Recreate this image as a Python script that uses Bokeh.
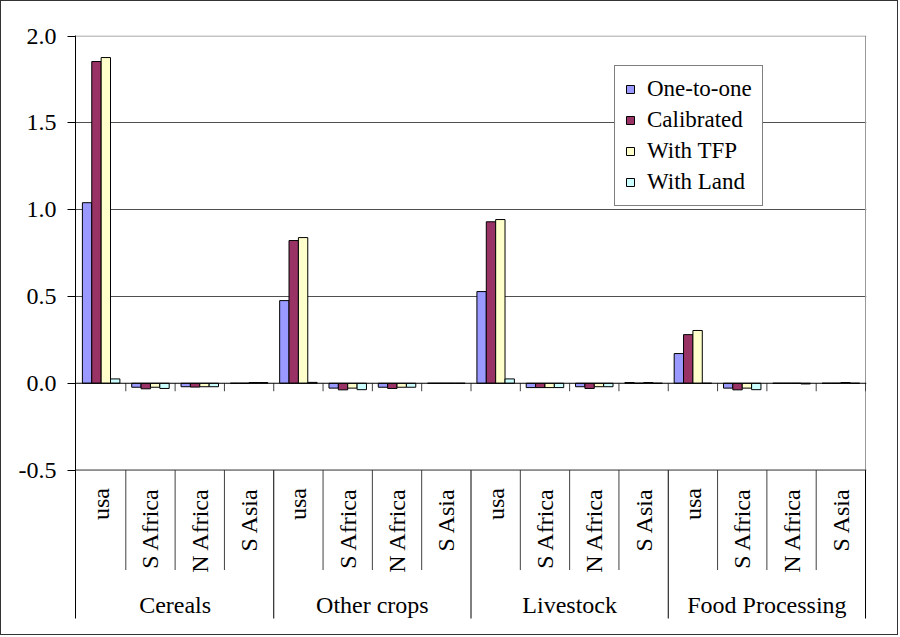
import math
from bokeh.plotting import figure
from bokeh.models import (FactorRange, Range1d, FixedTicker, NumeralTickFormatter,
                          Span, ColumnDataSource)
from bokeh.transform import dodge
from bokeh.core.properties import value
from bokeh.embed import file_html
from bokeh.resources import INLINE

# ---------------- data ----------------
groups = ["Cereals", "Other crops", "Livestock", "Food Processing"]
regions = ["usa", "S Africa", "N Africa", "S Asia"]
series_names = ["One-to-one", "Calibrated", "With TFP", "With Land"]
series_colors = ["#9999FF", "#993366", "#FFFFCC", "#CCFFFF"]

one_to_one = [1.04, -0.023, -0.02, 0.0,
              0.476, -0.028, -0.023, 0.0,
              0.528, -0.025, -0.02, 0.004,
              0.171, -0.028, 0.0, 0.0]
calibrated = [1.853, -0.032, -0.022, 0.0,
              0.822, -0.038, -0.03, 0.0,
              0.93, -0.025, -0.03, 0.0,
              0.28, -0.038, 0.0, 0.0]
with_tfp = [1.876, -0.023, -0.02, 0.004,
            0.839, -0.028, -0.023, 0.0,
            0.943, -0.025, -0.02, 0.004,
            0.304, -0.028, 0.0, 0.004]
with_land = [0.025, -0.03, -0.02, 0.004,
             0.005, -0.037, -0.023, 0.0,
             0.025, -0.025, -0.02, 0.0,
             0.0, -0.037, -0.004, 0.0]

y_ticks = [-0.5, 0.0, 0.5, 1.0, 1.5, 2.0]

FONT = "Liberation Serif"

factors = [(g, r) for g in groups for r in regions]

x_range = FactorRange(*factors, factor_padding=0, group_padding=0,
                      range_padding=0.02, range_padding_units="absolute")

p = figure(width=898, height=635, x_range=x_range, y_range=Range1d(-1.355, 2.003),
           output_backend="svg", toolbar_location=None, x_axis_location=None,
           min_border_left=74, min_border_right=33, min_border_top=34,
           min_border_bottom=18)
p.outline_line_color = None
p.background_fill_color = "white"
p.border_fill_color = "white"
p.styles = {"border": "1px solid #333333"}

# y axis
yax = p.yaxis[0]
yax.ticker = FixedTicker(ticks=y_ticks)
yax.formatter = NumeralTickFormatter(format="0.0")
yax.axis_line_color = "black"
yax.major_tick_line_color = "black"
yax.major_tick_out = 8
yax.major_tick_in = 0
yax.minor_tick_line_color = None
yax.major_label_standoff = 11
yax.major_label_text_font = FONT
yax.major_label_text_font_size = "24px"
yax.major_label_text_color = "black"

p.xgrid.visible = False
p.ygrid.ticker = FixedTicker(ticks=[t for t in y_ticks if 0 < t < max(y_ticks)])
p.ygrid.grid_line_color = "#505050"
p.ygrid.grid_line_width = 1

# plot-area border (top & right) and axis lines
p.add_layout(Span(location=max(y_ticks), dimension="width", line_color="#8c8c8c", line_width=1))
p.add_layout(Span(location=0.0, dimension="width", line_color="black", line_width=1))
p.add_layout(Span(location=min(y_ticks), dimension="width", line_color="#303030", line_width=1))

src = ColumnDataSource(data=dict(x=factors, one=one_to_one, cal=calibrated,
                                 tfp=with_tfp, land=with_land))

bw = 0.19
offsets = [-1.5 * bw, -0.5 * bw, 0.5 * bw, 1.5 * bw]
cols = ["one", "cal", "tfp", "land"]
for off, col, name, color in zip(offsets, cols, series_names, series_colors):
    p.vbar(x=dodge("x", off, range=p.x_range), top=col, width=bw, source=src,
           fill_color=color, line_color="black", line_width=1, legend_label=name)

# right border of plot area
last = factors[-1:]
p.segment(x0=dodge("x", 0.5, range=p.x_range), y0=min(y_ticks),
          x1=dodge("x", 0.5, range=p.x_range), y1=max(y_ticks),
          source=ColumnDataSource(data=dict(x=last)), line_color="#999999", line_width=1)

# small ticks on the zero axis at category boundaries
tick_src = ColumnDataSource(data=dict(x=factors[1:]))
p.ray(x=dodge("x", -0.5, range=p.x_range), y=0.0, length=8, length_units="screen",
      angle=-math.pi / 2, source=tick_src, line_color="#404040", line_width=1)
p.ray(x=dodge("x", 0.5, range=p.x_range), y=0.0, length=8, length_units="screen",
      angle=-math.pi / 2, source=ColumnDataSource(data=dict(x=last)),
      line_color="#404040", line_width=1)

# separators of the category labels
inner = [f for f in factors if f[1] != regions[0]]
outer = [f for f in factors if f[1] == regions[0] and f[0] != groups[0]]
p.ray(x=dodge("x", -0.5, range=p.x_range), y=min(y_ticks), length=100, length_units="screen",
      angle=-math.pi / 2, source=ColumnDataSource(data=dict(x=inner)),
      line_color="#404040", line_width=1)
p.ray(x=dodge("x", -0.5, range=p.x_range), y=min(y_ticks), length=200, length_units="screen",
      angle=-math.pi / 2, source=ColumnDataSource(data=dict(x=outer)),
      line_color="black", line_width=1)
p.ray(x=dodge("x", 0.5, range=p.x_range), y=min(y_ticks), length=200, length_units="screen",
      angle=-math.pi / 2, source=ColumnDataSource(data=dict(x=last)),
      line_color="black", line_width=1)

# category labels
p.text(x="x", y=min(y_ticks), text="t", source=ColumnDataSource(
    data=dict(x=factors, t=[f[1] for f in factors])),
       angle=math.pi / 2, text_align="right", text_baseline="middle", y_offset=18,
       text_font=value(FONT), text_font_size="24px", text_color="black")
p.text(x="x", y=min(y_ticks), text="x", source=ColumnDataSource(data=dict(x=groups)),
       text_align="center", text_baseline="middle", y_offset=135,
       text_font=value(FONT), text_font_size="24px", text_color="black")

# legend
lg = p.legend[0]
lg.location = (539, 412)
lg.border_line_color = "black"
lg.border_line_width = 1
lg.background_fill_color = "white"
lg.background_fill_alpha = 1
lg.label_text_font = FONT
lg.label_text_font_size = "23px"
lg.label_text_color = "black"
lg.glyph_width = 10
lg.glyph_height = 10
lg.label_standoff = 12
lg.label_height = 23
lg.spacing = 5
lg.padding = 10
lg.margin = 0

open("out.html", "w").write(file_html(p, INLINE))
